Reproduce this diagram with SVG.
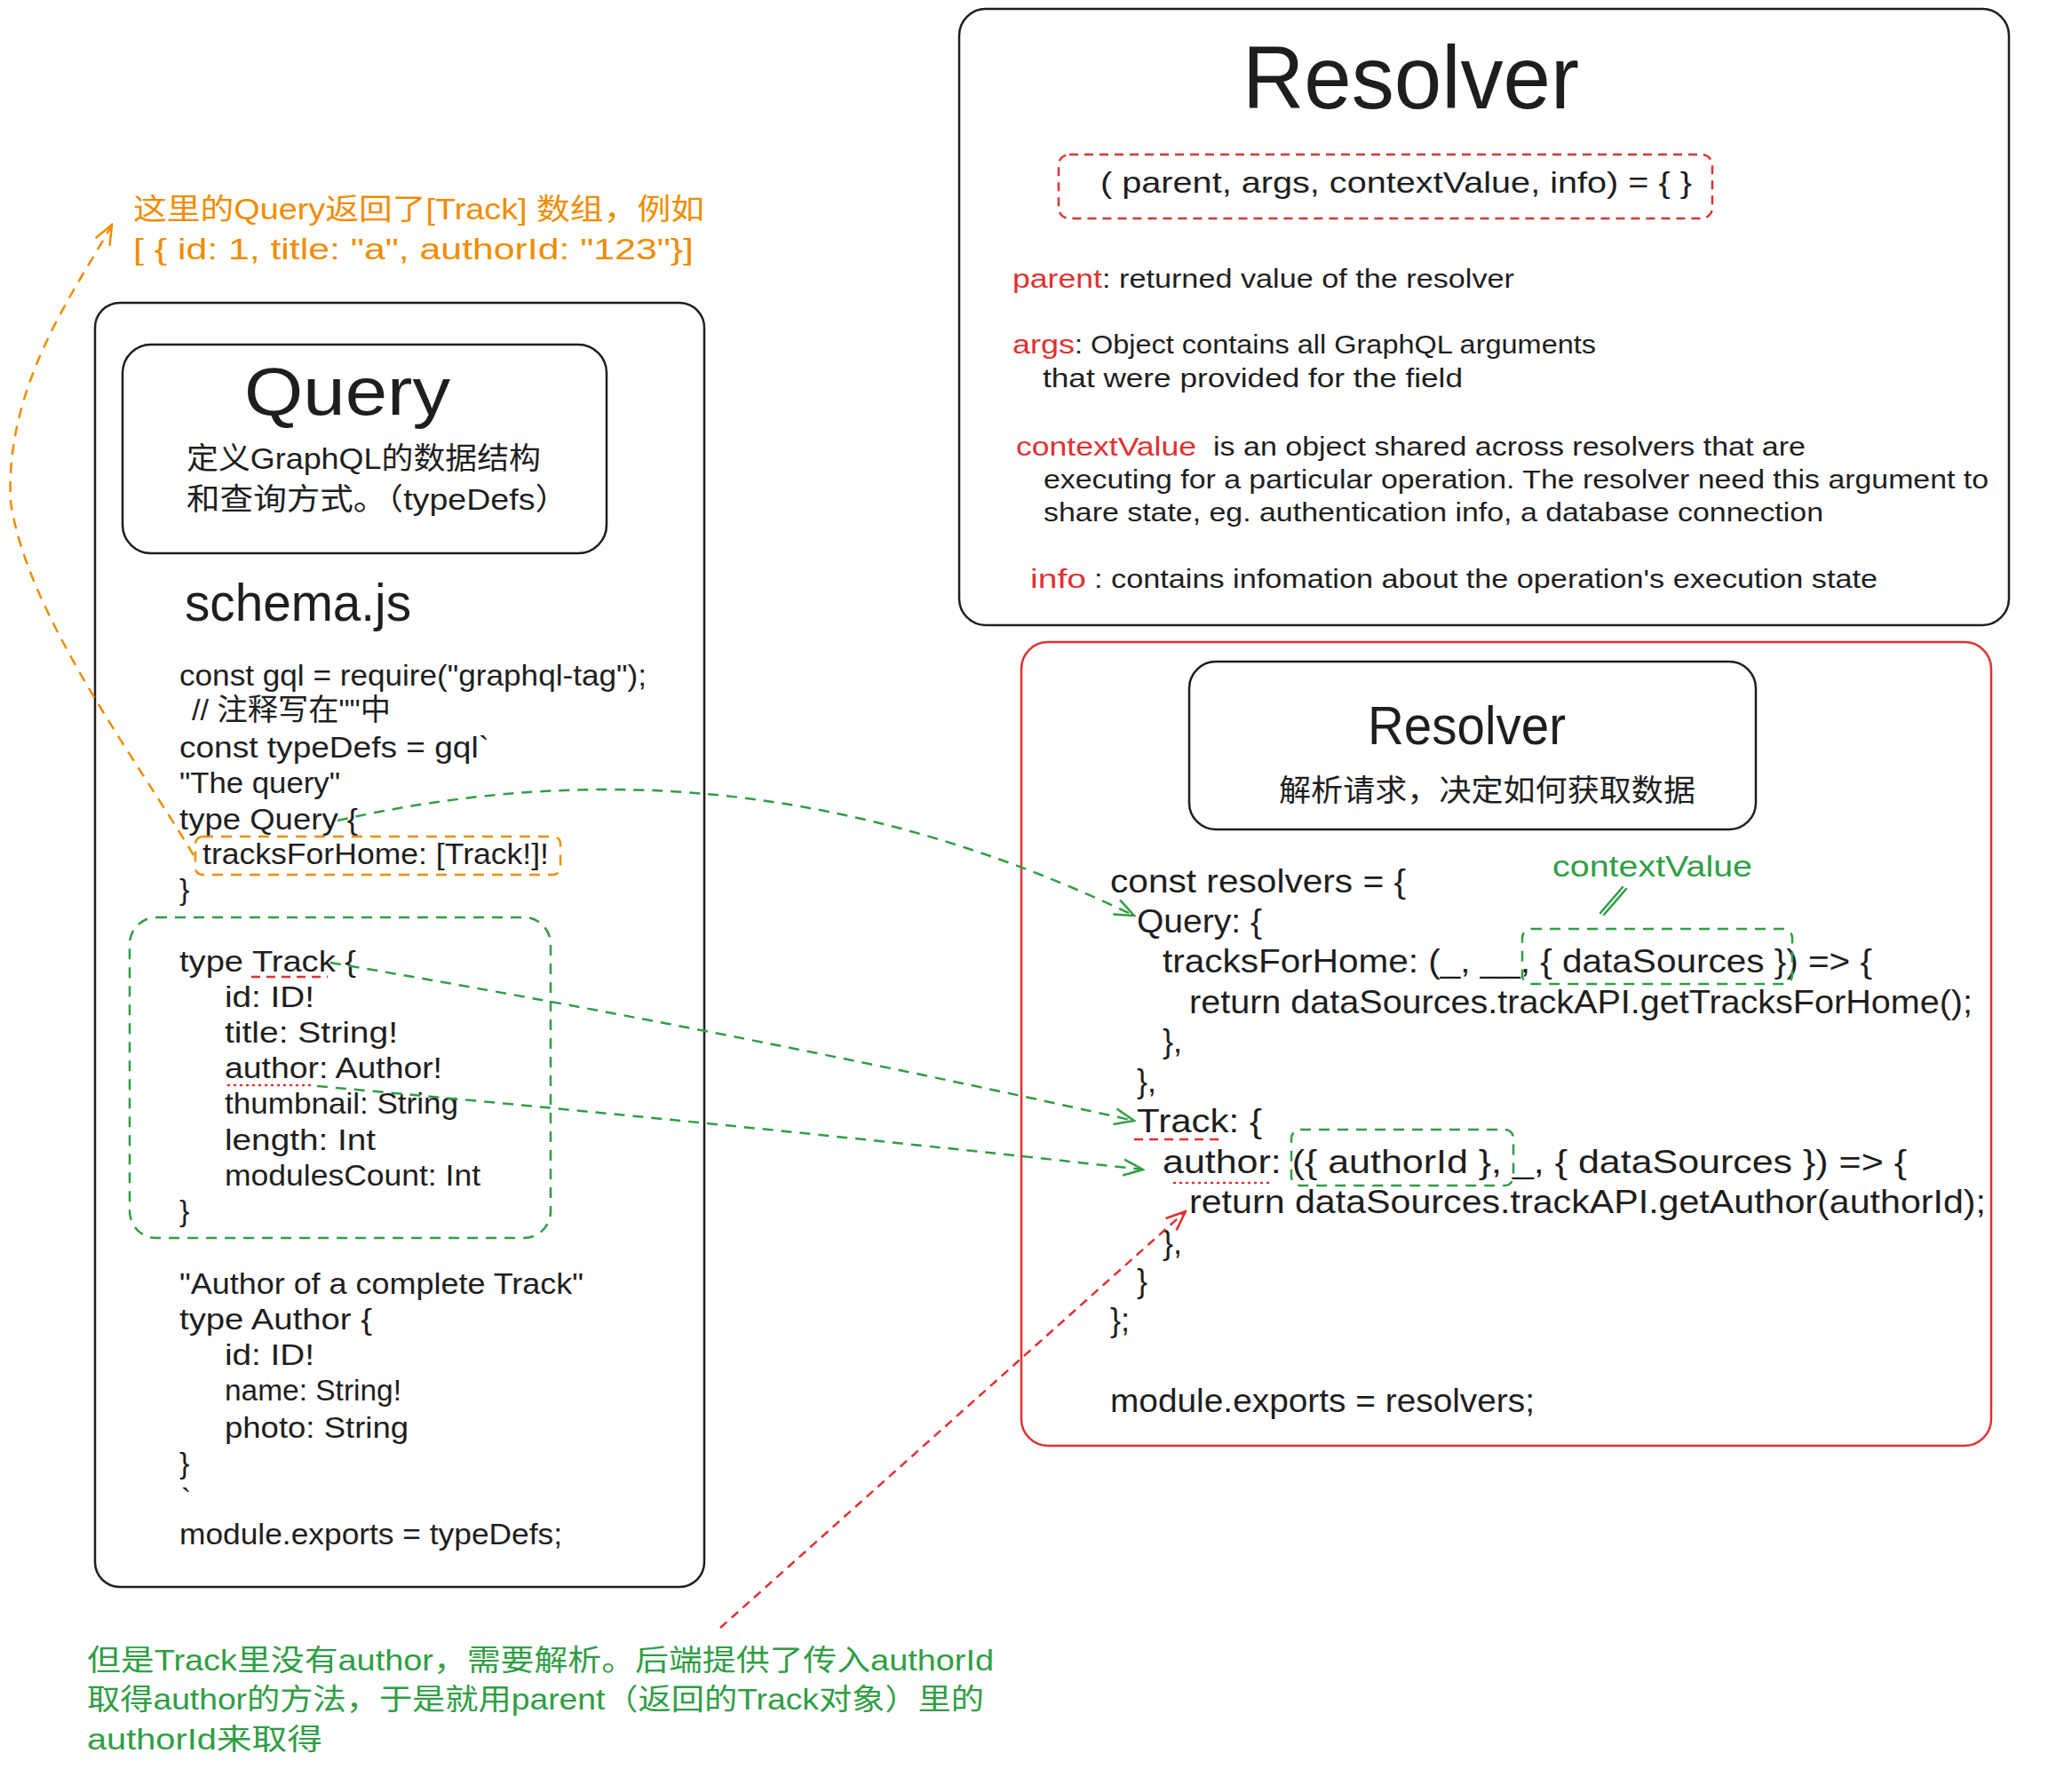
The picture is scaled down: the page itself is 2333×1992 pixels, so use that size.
<svg xmlns="http://www.w3.org/2000/svg" width="2333" height="1992" viewBox="0 0 2333 1992">
<style>
.t{font-family:"Liberation Sans","Noto Sans CJK SC",sans-serif;fill:#1e1e1e}
.c{font-size:34px}
.rc{font-size:36px}
.i{font-size:29px}
.red{fill:#e03131}
.grn{fill:#2f9e44}
.org{fill:#f08c00}
.box{fill:none;stroke:#1e1e1e;stroke-width:2.5}
.rbox{fill:none;stroke:#e03131;stroke-width:2.5}
.dg{fill:none;stroke:#2f9e44;stroke-width:2.5;stroke-dasharray:12 9}
.dr{fill:none;stroke:#e03131;stroke-width:2.5;stroke-dasharray:10 7}
.do{fill:none;stroke:#f08c00;stroke-width:2.5;stroke-dasharray:12 9}
.dot{fill:none;stroke:#e03131;stroke-width:2.5;stroke-dasharray:1 6;stroke-linecap:round}
</style>
<defs>
<marker id="ag" markerUnits="userSpaceOnUse" viewBox="0 0 26 22" refX="24" refY="11" markerWidth="26" markerHeight="22" orient="auto"><path d="M2,2 L24,11 L2,20" fill="none" stroke="#2f9e44" stroke-width="2.5"/></marker>
<marker id="ar" markerUnits="userSpaceOnUse" viewBox="0 0 26 22" refX="24" refY="11" markerWidth="26" markerHeight="22" orient="auto"><path d="M2,2 L24,11 L2,20" fill="none" stroke="#e03131" stroke-width="2.5"/></marker>
<marker id="ao" markerUnits="userSpaceOnUse" viewBox="0 0 26 22" refX="24" refY="11" markerWidth="26" markerHeight="22" orient="auto"><path d="M2,2 L24,11 L2,20" fill="none" stroke="#f08c00" stroke-width="2.5"/></marker>
</defs>
<rect width="2333" height="1992" fill="#ffffff"/>

<g id="orange-note">
<text class="t org" font-size="33" x="150" y="247" textLength="643" lengthAdjust="spacingAndGlyphs">这里的Query返回了[Track] 数组，例如</text>
<text class="t org" font-size="33" x="150" y="292" textLength="631" lengthAdjust="spacingAndGlyphs">[ { id: 1, title: "a", authorId: "123"}]</text>
</g>

<g id="schema">
<rect class="box" x="107" y="341" width="686" height="1446" rx="28"/>
<text class="t" font-size="60" x="208" y="699" textLength="255" lengthAdjust="spacingAndGlyphs">schema.js</text>
<text class="t c" x="202" y="772" textLength="526" lengthAdjust="spacingAndGlyphs">const gql = require("graphql-tag");</text>
<text class="t c" x="216" y="811" textLength="224" lengthAdjust="spacingAndGlyphs">// 注释写在""中</text>
<text class="t c" x="202" y="853" textLength="349" lengthAdjust="spacingAndGlyphs">const typeDefs = gql`</text>
<text class="t c" x="202" y="893" textLength="181" lengthAdjust="spacingAndGlyphs">"The query"</text>
<text class="t c" x="202" y="934" textLength="201" lengthAdjust="spacingAndGlyphs">type Query {</text>
<rect class="do" x="220" y="942" width="411" height="43" rx="8"/>
<text class="t c" x="228" y="973" textLength="390" lengthAdjust="spacingAndGlyphs">tracksForHome: [Track!]!</text>
<text class="t c" x="202" y="1013">}</text>
<text class="t c" x="202" y="1094" textLength="199" lengthAdjust="spacingAndGlyphs">type Track {</text>
<text class="t c" x="253" y="1134" textLength="101" lengthAdjust="spacingAndGlyphs">id: ID!</text>
<text class="t c" x="253" y="1174" textLength="195" lengthAdjust="spacingAndGlyphs">title: String!</text>
<text class="t c" x="253" y="1214" textLength="245" lengthAdjust="spacingAndGlyphs">author: Author!</text>
<text class="t c" x="253" y="1254" textLength="263" lengthAdjust="spacingAndGlyphs">thumbnail: String</text>
<text class="t c" x="253" y="1295" textLength="170" lengthAdjust="spacingAndGlyphs">length: Int</text>
<text class="t c" x="253" y="1335" textLength="288" lengthAdjust="spacingAndGlyphs">modulesCount: Int</text>
<text class="t c" x="202" y="1375">}</text>
<text class="t c" x="202" y="1457" textLength="455" lengthAdjust="spacingAndGlyphs">"Author of a complete Track"</text>
<text class="t c" x="202" y="1497" textLength="217" lengthAdjust="spacingAndGlyphs">type Author {</text>
<text class="t c" x="253" y="1537" textLength="101" lengthAdjust="spacingAndGlyphs">id: ID!</text>
<text class="t c" x="253" y="1577" textLength="199" lengthAdjust="spacingAndGlyphs">name: String!</text>
<text class="t c" x="253" y="1619" textLength="207" lengthAdjust="spacingAndGlyphs">photo: String</text>
<text class="t c" x="202" y="1659">}</text>
<text class="t c" x="204" y="1700">`</text>
<text class="t c" x="202" y="1739" textLength="431" lengthAdjust="spacingAndGlyphs">module.exports = typeDefs;</text>
<rect class="dg" x="146" y="1033" width="474" height="361" rx="30"/>
<line class="dr" x1="283" y1="1100" x2="369" y2="1100"/>
<line class="dot" x1="257" y1="1222" x2="354" y2="1222"/>
</g>

<g id="query-node">
<rect class="box" x="138" y="388" width="545" height="235" rx="32"/>
<text class="t" font-size="76" x="275" y="467" textLength="232" lengthAdjust="spacingAndGlyphs">Query</text>
<text class="t" font-size="34" x="210" y="528" textLength="399" lengthAdjust="spacingAndGlyphs">定义GraphQL的数据结构</text>
<text class="t" font-size="34" x="210" y="574" textLength="430" lengthAdjust="spacingAndGlyphs">和查询方式。（typeDefs）</text>
</g>

<g id="resolver-info">
<rect class="box" x="1080" y="10" width="1182" height="694" rx="30"/>
<text class="t" font-size="100" x="1399" y="122" textLength="379" lengthAdjust="spacingAndGlyphs">Resolver</text>
<rect class="dr" x="1192" y="174" width="736" height="72" rx="12"/>
<text class="t" font-size="33" x="1239" y="217" textLength="666" lengthAdjust="spacingAndGlyphs">( parent, args, contextValue, info) = { }</text>
<text class="t i red" x="1140" y="324" textLength="101" lengthAdjust="spacingAndGlyphs">parent</text>
<text class="t i" x="1241" y="324" textLength="464" lengthAdjust="spacingAndGlyphs">: returned value of the resolver</text>
<text class="t i red" x="1140" y="398" textLength="70" lengthAdjust="spacingAndGlyphs">args</text>
<text class="t i" x="1210" y="398" textLength="587" lengthAdjust="spacingAndGlyphs">: Object contains all GraphQL arguments</text>
<text class="t i" x="1174" y="436" textLength="473" lengthAdjust="spacingAndGlyphs">that were provided for the field</text>
<text class="t i red" x="1144" y="513" textLength="203" lengthAdjust="spacingAndGlyphs">contextValue</text>
<text class="t i" x="1366" y="513" textLength="667" lengthAdjust="spacingAndGlyphs">is an object shared across resolvers that are</text>
<text class="t i" x="1175" y="550" textLength="1064" lengthAdjust="spacingAndGlyphs">executing for a particular operation. The resolver need this argument to</text>
<text class="t i" x="1175" y="587" textLength="878" lengthAdjust="spacingAndGlyphs">share state, eg. authentication info, a database connection</text>
<text class="t i red" x="1160" y="662" textLength="63" lengthAdjust="spacingAndGlyphs">info</text>
<text class="t i" x="1232" y="662" textLength="882" lengthAdjust="spacingAndGlyphs">: contains infomation about the operation's execution state</text>
</g>

<g id="resolvers">
<rect class="rbox" x="1150" y="723" width="1092" height="905" rx="30"/>
<text class="t rc" x="1250" y="1005" textLength="333" lengthAdjust="spacingAndGlyphs">const resolvers = {</text>
<text class="t rc" x="1280" y="1050" textLength="141" lengthAdjust="spacingAndGlyphs">Query: {</text>
<text class="t rc" x="1309" y="1095" textLength="799" lengthAdjust="spacingAndGlyphs">tracksForHome: (_, __, { dataSources }) =&gt; {</text>
<text class="t rc" x="1339" y="1141" textLength="882" lengthAdjust="spacingAndGlyphs">return dataSources.trackAPI.getTracksForHome();</text>
<text class="t rc" x="1309" y="1185">},</text>
<text class="t rc" x="1280" y="1230">},</text>
<text class="t rc" x="1280" y="1275" textLength="141" lengthAdjust="spacingAndGlyphs">Track: {</text>
<text class="t rc" x="1309" y="1321" textLength="838" lengthAdjust="spacingAndGlyphs">author: ({ authorId }, _, { dataSources }) =&gt; {</text>
<text class="t rc" x="1339" y="1366" textLength="897" lengthAdjust="spacingAndGlyphs">return dataSources.trackAPI.getAuthor(authorId);</text>
<text class="t rc" x="1309" y="1412">},</text>
<text class="t rc" x="1280" y="1455">}</text>
<text class="t rc" x="1250" y="1499">};</text>
<text class="t rc" x="1250" y="1590" textLength="478" lengthAdjust="spacingAndGlyphs">module.exports = resolvers;</text>
<rect class="dg" x="1714" y="1046" width="304" height="62" rx="10"/>
<rect class="dg" x="1454" y="1272" width="250" height="63" rx="10"/>
<line class="dr" x1="1277" y1="1283" x2="1378" y2="1283"/>
<line class="dot" x1="1322" y1="1332" x2="1428" y2="1332"/>
<text class="t grn" font-size="34" x="1748" y="987" textLength="225" lengthAdjust="spacingAndGlyphs">contextValue</text>
<path d="M1827,999 L1802,1028 M1831,1001 L1806,1030" fill="none" stroke="#2f9e44" stroke-width="2.5" stroke-linecap="round"/>
</g>

<g id="resolver-node">
<rect class="box" x="1339" y="745" width="638" height="189" rx="30"/>
<text class="t" font-size="62" x="1540" y="838" textLength="223" lengthAdjust="spacingAndGlyphs">Resolver</text>
<text class="t" font-size="34" x="1440" y="902" textLength="469" lengthAdjust="spacingAndGlyphs">解析请求，决定如何获取数据</text>
</g>

<g id="green-note">
<text class="t grn" font-size="33" x="98" y="1881" textLength="1021" lengthAdjust="spacingAndGlyphs">但是Track里没有author，需要解析。后端提供了传入authorId</text>
<text class="t grn" font-size="33" x="98" y="1925" textLength="1010" lengthAdjust="spacingAndGlyphs">取得author的方法，于是就用parent（返回的Track对象）里的</text>
<text class="t grn" font-size="33" x="98" y="1970" textLength="265" lengthAdjust="spacingAndGlyphs">authorId来取得</text>
</g>

<g id="connectors">
<path class="do" d="M218,963 C150,850 30,690 12,565 C5,430 90,320 126,253" marker-end="url(#ao)"/>
<path class="dg" d="M380,924 C620,870 920,860 1277,1031" marker-end="url(#ag)"/>
<path class="dg" d="M372,1084 Q820,1160 1277,1262" marker-end="url(#ag)"/>
<path class="dg" d="M357,1223 Q820,1265 1287,1317" marker-end="url(#ag)"/>
<path class="dr" d="M811,1833 L1335,1364" marker-end="url(#ar)"/>
</g>
</svg>
